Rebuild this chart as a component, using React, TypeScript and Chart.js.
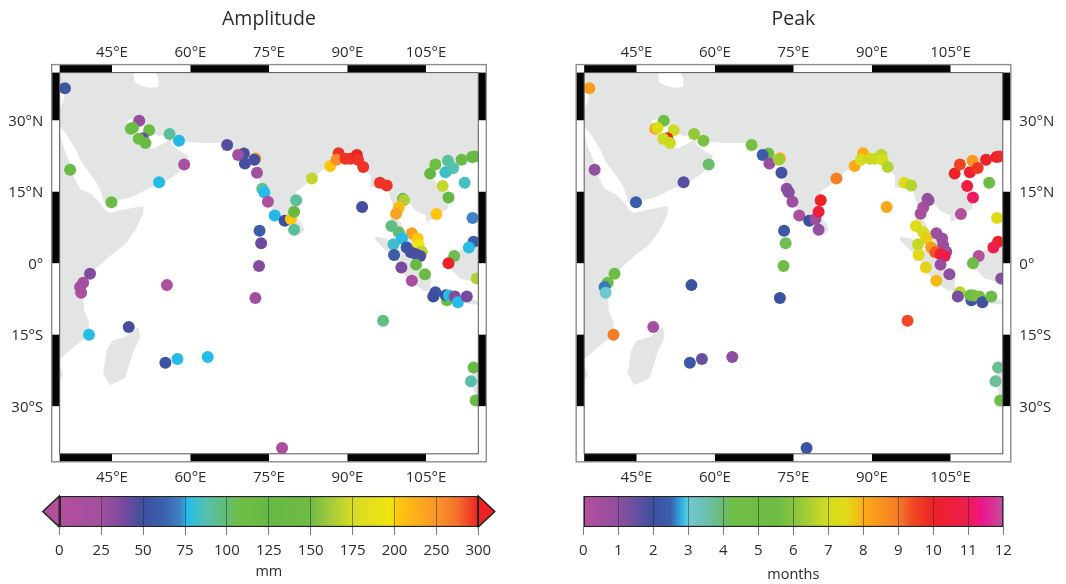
import React, { useEffect, useRef } from "react";
import { Chart, registerables } from "chart.js";

Chart.register(...registerables);

const FONT = '"Open Sans", sans-serif';
const TEXT = "#2b2b2b";
const LAND = "#e3e5e5";

const lonTicks = [45, 60, 75, 90, 105];
const latTicks = [-30, -15, 0, 15, 30];
const lonBands = [35, 45, 60, 75, 90, 105, 115];
const latBands = [40, 30, 15, 0, -15, -30, -40];

const amplitudeTicks = [0, 25, 50, 75, 100, 125, 150, 175, 200, 250, 300];
const peakTicks = [0, 1, 2, 3, 4, 5, 6, 7, 8, 9, 10, 11, 12];

const amplitudeRamp: [number, string][] = [
  [0, "#b44f9d"], [1, "#a04f9f"], [1.5, "#7c4a9e"], [2, "#3c4f9f"], [2.5, "#3b60ab"], [2.9, "#4084c4"],
  [3.05, "#22bcec"], [3.5, "#55c0b0"], [4, "#62bd72"], [4.3, "#70bf44"], [5, "#66b845"], [6, "#6fbc44"],
  [6.5, "#a8cc3a"], [7, "#d6dc26"], [7.9, "#f2e40e"], [8.1, "#ffc50e"], [9, "#f9962a"], [9.5, "#f3702c"], [10, "#ee2224"],
];
const peakRamp: [number, string][] = [
  [0, "#b84f9d"], [1, "#8f4fa0"], [2, "#3c50a0"], [2.5, "#3a5fac"], [2.85, "#2ebcec"], [3, "#6ec8d0"],
  [3.5, "#6cc0b0"], [4, "#6abd6f"], [4.3, "#70bf44"], [5.5, "#6cbc45"], [6, "#85c43f"], [7, "#d4dd1f"],
  [7.5, "#e0dc18"], [7.9, "#f5b915"], [8, "#fcaa17"], [9, "#f47c26"], [9.4, "#f04a25"], [10, "#ee2126"],
  [11, "#ee1c50"], [11.4, "#ec168e"], [12, "#c44f9c"],
];

const stationLon = [
  36.0, 50.2, 48.6, 49.0, 52.1, 50.9, 50.1, 51.4, 56.0, 57.8, 67.0, 70.2, 69.1, 70.4, 72.4, 72.2, 72.7, 73.7, 74.1, 74.8,
  76.1, 73.2, 73.5, 73.1, 72.4, 78.0, 79.2, 79.8, 80.2, 79.8, 83.2, 86.7, 88.3, 87.9, 89.6, 90.5, 91.8, 92.0, 93.0, 92.8,
  96.2, 97.5, 100.6, 100.8, 99.8, 99.3, 107.0, 109.3, 108.2, 105.8, 106.8, 108.7, 109.2, 110.2, 111.8, 113.8, 114.3, 112.4, 113.9, 114.1,
  113.2, 110.4, 109.3, 114.7, 98.4, 99.8, 102.3, 100.4, 98.8, 103.4, 103.6, 104.2, 101.3, 102.1, 103.1, 103.9, 98.9, 100.3, 103.1, 104.8,
  102.3, 106.8, 106.4, 109.0, 108.8, 109.4, 110.5, 111.1, 112.8, 96.8, 114.1, 113.6, 114.5, 77.5, 37.0, 44.9, 58.8, 54.0, 40.8, 39.5,
  38.9, 39.1, 40.6, 48.2, 55.5, 55.2, 57.5, 63.3,
];
const stationLat = [
  36.7, 29.9, 28.2, 28.4, 27.9, 26.2, 26.1, 25.2, 27.1, 25.7, 24.8, 23.0, 22.7, 20.9, 22.0, 21.7, 19.0, 15.6, 14.9, 12.9,
  10.0, 6.8, 4.2, -0.6, -7.3, 8.9, 9.3, 10.8, 13.2, 7.0, 17.8, 20.4, 23.1, 21.7, 21.9, 21.9, 22.7, 21.7, 20.2, 11.8,
  16.9, 16.3, 13.5, 13.2, 11.7, 10.4, 10.3, 13.8, 16.2, 18.8, 20.7, 19.1, 21.5, 20.0, 21.7, 22.3, 22.4, 16.9, 9.5, 4.5,
  3.3, 1.5, 0.0, -3.2, 7.8, 6.5, 6.3, 5.2, 4.0, 5.2, 3.8, 2.4, 3.3, 2.3, 1.9, 1.5, 1.7, -0.9, -0.3, -2.3,
  -3.7, -6.1, -7.0, -7.8, -6.7, -6.8, -7.0, -8.2, -7.0, -12.1, -21.9, -24.8, -28.8, -38.8, 19.6, 12.8, 20.7, 17.0, -2.2, -4.1,
  -5.0, -6.2, -15.0, -13.4, -4.6, -20.9, -20.1, -19.7,
];
const amplitudeMm = [
  55, 30, 110, 118, 115, 40, 115, 118, 92, 76, 45, 48, 22, 48, 240, 48, 22, 93, 77, 10,
  76, 60, 40, 35, 25, 50, 205, 120, 92, 92, 170, 205, 295, 255, 295, 295, 300, 295, 295, 48,
  295, 295, 125, 165, 215, 240, 205, 125, 170, 125, 110, 82, 92, 88, 118, 120, 122, 84, 72, 62,
  78, 105, 300, 165, 97, 100, 240, 77, 82, 205, 195, 168, 55, 47, 47, 47, 58, 38, 122, 118,
  12, 55, 50, 115, 50, 78, 35, 77, 38, 97, 120, 88, 118, 12, 118, 118, 15, 77, 35, 18,
  22, 12, 77, 48, 10, 54, 77, 77,
];
const peakMonth = [
  8.3, 5, 8.2, 7.4, 6.9, 10, 6.9, 6.9, 6.2, 5.8, 5.7, 5.2, 2.4, 0.8, 8, 6.3, 1.9, 0.9, 1.1, 0.6,
  0.4, 2.3, 4.2, 5, 2, 2, 0.7, 10.5, 10, 0.9, 8.9, 8, 8, 7.1, 6.9, 6.9, 6.7, 7, 6.6, 8.1,
  7.4, 6.6, 0.9, 0.9, 0.5, 0.4, 0.1, 11.1, 10.6, 10, 9.5, 10.2, 8.4, 9.7, 10.1, 10.1, 9.9, 5.5, 7.4, 10,
  10.9, 0.1, 5.4, 1.1, 7.4, 7, 0.6, 7.7, 6.8, 0.7, 0.7, 0.7, 8.3, 9.3, 10.5, 10.8, 7.5, 7.6, 0.8, 1,
  7.9, 6.6, 1.3, 1.9, 5.5, 5.6, 5.8, 1.9, 5.5, 9.4, 3.7, 3.7, 5, 2.1, 0.9, 2.4, 4, 1.7, 5.1, 5,
  2.6, 3, 9, 0.5, 2.1, 2.2, 1.5, 1,
];

const eurasia = [
  [34, 41], [116, 41], [116, 22.7], [114, 22.3], [111, 21.4], [110.3, 20.3], [109.7, 21.5], [108, 21.6], [106.7, 20.5], [105.8, 19],
  [106.5, 17.5], [108, 16], [109.2, 13.5], [109.2, 11.5], [107.5, 10.4], [106.7, 9.5], [105, 8.6], [105, 10], [103, 11], [102, 12.5],
  [100.9, 13.4], [100, 13.3], [99.9, 11.5], [99.2, 9.5], [100.3, 8.3], [100.5, 7], [101.8, 6.6], [103.3, 5], [103.5, 2.8], [104.2, 1.4],
  [103.3, 1.4], [101.3, 2.9], [100.5, 5], [100.2, 6.5], [98.5, 8], [98.3, 10], [98.7, 12], [97.7, 15.5], [97.2, 16.8], [95.5, 15.8],
  [94.3, 16], [94.5, 18], [93.5, 19.8], [92.3, 20.8], [91.5, 22.4], [90.5, 22.5], [88.8, 21.7], [87, 21.3], [86.5, 20], [85, 19.4],
  [83, 17.3], [81.5, 16], [80.2, 15], [80.3, 13], [79.8, 11], [79, 9.5], [78, 8.7], [77.5, 8], [76.5, 9], [75.5, 11.5],
  [74.7, 13], [73.5, 16], [72.8, 19], [72.7, 21], [72, 21], [71, 20.8], [69, 22.2], [70, 22.8], [68.5, 23.3], [67.3, 24.5],
  [66.5, 25.3], [62, 25.2], [57.5, 25.6], [56.8, 27], [54, 26.7], [51.5, 27.8], [50.5, 29.5], [49, 30.3], [48, 30], [48, 29],
  [48.8, 27.7], [50, 26.5], [50.2, 25.6], [50.8, 24.8], [51.3, 26], [51.6, 25], [51.5, 24.2], [53, 24.1], [55, 25.2], [56.3, 26.2],
  [56.5, 24.8], [58, 23.6], [59.7, 22.5], [58.7, 20.5], [57.7, 19], [55, 17], [52, 15.7], [49, 14], [45, 12.8], [43.5, 12.7],
  [42.7, 15.5], [42, 17], [40, 20], [39, 21.5], [38, 24], [36, 27.5], [35, 28.5], [34, 29],
];
const africa = [
  [34, 28], [35, 28], [35.5, 25], [37, 21], [37.5, 18.5], [39, 15.5], [41, 14.5], [43, 12.3], [43.3, 11.5], [44.5, 10.5],
  [47, 11.2], [51, 12], [51, 10.5], [49.5, 7], [47.5, 4], [45, 1.8], [42, -1], [40.5, -2.5], [39.3, -5], [39.5, -7],
  [39.7, -10], [40.5, -12], [40.7, -15], [38, -17.3], [35.5, -19.7], [34, -21],
];
const mozambique = [[34, -21.5], [35, -21.5], [35.6, -23], [35.5, -24], [34.8, -25], [34, -25]];
const madagascar = [
  [50, -13.4], [50.4, -15.5], [49, -18.8], [47.5, -24.1], [44.6, -25.6], [43.3, -23.1], [44, -18.2], [45, -16.3], [47.5, -15.5], [49, -14.4],
];
const sriLanka = [[80, 9.7], [81.2, 8.5], [81.8, 7], [81, 6.1], [80.1, 6], [79.8, 7.5]];
const sumatra = [
  [95.3, 5.6], [97.5, 5.2], [100, 2.8], [103.5, 0], [104, -1.5], [106, -3], [105.8, -5.8], [104.5, -5.8], [102.3, -4], [100.5, -2],
  [98.7, 1.5], [97, 3], [95.3, 5],
];
const borneo = [[109, 1.5], [111.3, 2.5], [113.5, 4], [116, 6.5], [116, -4], [114.5, -4], [111.5, -3.2], [110, -1.5], [109, 0.5]];
const java = [[105.3, -6.5], [108.5, -6.6], [110.8, -6.5], [114.5, -7.7], [116, -8.3], [114.5, -8.7], [110, -8], [106.5, -7.5]];
const hainan = [[108.8, 19.2], [110.3, 20], [111, 19.5], [109.8, 18.3], [108.7, 18.6]];
const australia = [[114, -22], [116, -20.9], [116, -32], [115, -30], [114.2, -27], [113.5, -25], [113.8, -22.5]];
const caspian = [[49, 41], [49.3, 38], [50.5, 37.3], [52, 36.8], [53.8, 37], [54, 38.5], [53, 41]];
const levant = [[34, 37.5], [36, 36.8], [36, 35.5], [35.5, 33.5], [34.8, 32], [34, 32]];

const landShapes = [eurasia, africa, mozambique, madagascar, sriLanka, sumatra, borneo, java, hainan, australia];
const waterShapes = [caspian, levant];

const rgb = (h: string) => [1, 3, 5].map((i) => parseInt(h.slice(i, i + 2), 16));

function rampColor(ramp: [number, string][], p: number) {
  for (let i = 1; i < ramp.length; i++) {
    if (p <= ramp[i][0]) {
      const [a, ca] = ramp[i - 1];
      const [b, cb] = ramp[i];
      const t = Math.max(0, (p - a) / (b - a));
      const A = rgb(ca);
      const B = rgb(cb);
      return `rgb(${A.map((v, k) => Math.round(v + (B[k] - v) * t)).join(",")})`;
    }
  }
  return ramp[ramp.length - 1][1];
}

function tickPosition(ticks: number[], v: number) {
  for (let i = 1; i < ticks.length; i++) {
    if (v <= ticks[i]) return i - 1 + (v - ticks[i - 1]) / (ticks[i] - ticks[i - 1]);
  }
  return ticks.length - 1;
}

const frame = {
  id: "frame",
  afterDatasetsDraw(chart: any) {
    const { ctx, chartArea: a, scales } = chart;
    const B = 8;
    ctx.save();
    ctx.fillStyle = "#fff";
    ctx.fillRect(a.left - B, a.top - B, a.right - a.left + 2 * B, B);
    ctx.fillRect(a.left - B, a.bottom, a.right - a.left + 2 * B, B);
    ctx.fillRect(a.left - B, a.top, B, a.bottom - a.top);
    ctx.fillRect(a.right, a.top, B, a.bottom - a.top);
    ctx.fillStyle = "#050505";
    for (let i = 0; i < lonBands.length - 1; i += 2) {
      const x0 = scales.x.getPixelForValue(lonBands[i]);
      const x1 = scales.x.getPixelForValue(lonBands[i + 1]);
      ctx.fillRect(x0, a.top - B, x1 - x0, B);
      ctx.fillRect(x0, a.bottom, x1 - x0, B);
    }
    for (let i = 0; i < latBands.length - 1; i += 2) {
      const y0 = scales.y.getPixelForValue(latBands[i]);
      const y1 = scales.y.getPixelForValue(latBands[i + 1]);
      ctx.fillRect(a.left - B, y0, B, y1 - y0);
      ctx.fillRect(a.right, y0, B, y1 - y0);
    }
    ctx.strokeStyle = "#8c8c8c";
    ctx.lineWidth = 1.4;
    ctx.strokeRect(a.left - B, a.top - B, a.right - a.left + 2 * B, a.bottom - a.top + 2 * B);
    ctx.strokeStyle = "#555";
    ctx.lineWidth = 1;
    ctx.strokeRect(a.left, a.top, a.right - a.left, a.bottom - a.top);
    ctx.restore();
  },
};

function shapeDataset(shape: number[][], color: string, order: number) {
  return {
    type: "scatter",
    data: [...shape, shape[0]].map(([x, y]) => ({ x, y })),
    showLine: true,
    fill: "shape",
    backgroundColor: color,
    borderWidth: 0,
    pointRadius: 0,
    order,
  };
}

function makeMap(canvas: HTMLCanvasElement, title: string, colors: string[], side: "left" | "right", leftPad: number, rightPad: number, yWidth: number) {
  const tick = { color: TEXT, font: { family: FONT, size: 15 } };
  const lonAxis = (position: string, padding: number, height: number) => ({
    type: "linear",
    position,
    min: lonBands[0],
    max: lonBands[lonBands.length - 1],
    grid: { display: false, drawTicks: false },
    border: { display: false },
    ticks: { ...tick, padding, maxRotation: 0, autoSkip: false, callback: (v: number) => `${v}°E` },
    afterBuildTicks: (s: any) => { s.ticks = lonTicks.map((value) => ({ value })); },
    afterFit: (s: any) => { s.height = height; },
  });
  return new Chart(canvas, {
    type: "scatter",
    data: {
      datasets: [
        {
          data: stationLon.map((x, i) => ({ x, y: stationLat[i] })),
          backgroundColor: colors,
          pointRadius: 6,
          pointHoverRadius: 6,
          borderWidth: 0,
          order: 1,
        },
        ...waterShapes.map((s) => shapeDataset(s, "#ffffff", 2)),
        ...landShapes.map((s) => shapeDataset(s, LAND, 3)),
      ],
    } as any,
    options: {
      animation: false,
      responsive: false,
      maintainAspectRatio: false,
      layout: { padding: { left: leftPad, right: rightPad, top: 0, bottom: 0 } },
      plugins: {
        legend: { display: false },
        tooltip: { enabled: false },
        title: {
          display: true,
          text: title,
          fullSize: false,
          color: TEXT,
          font: { family: FONT, size: 19.5, weight: "normal" },
          padding: { top: 8, bottom: 5 },
        },
      },
      scales: {
        x: lonAxis("bottom", 15, 36.2),
        xTop: lonAxis("top", 11, 36.2),
        y: {
          type: "linear",
          position: side,
          min: latBands[latBands.length - 1],
          max: latBands[0],
          grid: { display: false, drawTicks: false },
          border: { display: false },
          ticks: {
            ...tick,
            padding: 16.5,
            labelOffset: 1.5,
            autoSkip: false,
            callback: (v: number) => (v === 0 ? "0°" : `${Math.abs(v)}°${v > 0 ? "N" : "S"}`),
          },
          afterBuildTicks: (s: any) => { s.ticks = latTicks.map((value) => ({ value })); },
          afterFit: (s: any) => { s.width = yWidth; },
        },
      },
    } as any,
    plugins: [frame],
  });
}

function makeBar(canvas: HTMLCanvasElement, ticks: number[], ramp: [number, string][], unit: string, unitPad: number, leftPad: number, rightPad: number, arrows: boolean) {
  const last = ticks.length - 1;
  const arrowPlugin = {
    id: "arrows",
    afterDatasetsDraw(chart: any) {
      if (!arrows) return;
      const { ctx, chartArea: a } = chart;
      const mid = (a.top + a.bottom) / 2;
      const tri = (x: number, tip: number, color: string) => {
        ctx.beginPath();
        ctx.moveTo(x, a.top);
        ctx.lineTo(tip, mid);
        ctx.lineTo(x, a.bottom);
        ctx.closePath();
        ctx.fillStyle = color;
        ctx.fill();
        ctx.strokeStyle = "#222";
        ctx.lineWidth = 1.5;
        ctx.stroke();
      };
      tri(a.left, a.left - 16.5, ramp[0][1]);
      tri(a.right, a.right + 16.5, ramp[ramp.length - 1][1]);
    },
  };
  return new Chart(canvas, {
    type: "bar",
    data: {
      labels: [unit],
      datasets: [
        {
          data: [[0, last]],
          barPercentage: 1,
          categoryPercentage: 1,
          borderColor: "#222",
          borderWidth: 1.5,
          borderSkipped: false,
          backgroundColor: (c: any) => {
            const a = c.chart.chartArea;
            if (!a) return ramp[0][1];
            const g = c.chart.ctx.createLinearGradient(a.left, 0, a.right, 0);
            ramp.forEach(([p, col]) => g.addColorStop(p / last, col));
            return g;
          },
        },
      ],
    } as any,
    options: {
      animation: false,
      responsive: false,
      maintainAspectRatio: false,
      indexAxis: "y",
      layout: { padding: { left: leftPad, right: rightPad, top: 11, bottom: 0 } },
      plugins: { legend: { display: false }, tooltip: { enabled: false } },
      scales: {
        y: { display: false },
        x: {
          type: "linear",
          min: 0,
          max: last,
          grid: { z: 1, color: "rgba(40,40,40,0.5)", tickColor: "#777", tickLength: 8, lineWidth: 1 },
          border: { display: false },
          ticks: {
            stepSize: 1,
            padding: 7,
            color: TEXT,
            font: { family: FONT, size: 15 },
            maxRotation: 0,
            autoSkip: false,
            callback: (v: number) => ticks[v],
          },
          title: {
            display: true,
            text: unit,
            color: TEXT,
            font: { family: FONT, size: 14.5 },
            padding: { top: 0, bottom: unitPad },
          },
          afterFit: (s: any) => { s.height = 57; },
        },
      },
    } as any,
    plugins: [arrowPlugin],
  });
}

const abs = (left: number, top: number): React.CSSProperties => ({ position: "absolute", left, top, display: "block", filter: "blur(0.35px)" });

export default function App() {
  const m1 = useRef<HTMLCanvasElement>(null);
  const m2 = useRef<HTMLCanvasElement>(null);
  const b1 = useRef<HTMLCanvasElement>(null);
  const b2 = useRef<HTMLCanvasElement>(null);
  useEffect(() => {
    const ampColors = amplitudeMm.map((v) => rampColor(amplitudeRamp, tickPosition(amplitudeTicks, v)));
    const peakColors = peakMonth.map((v) => rampColor(peakRamp, v));
    const charts = [
      makeMap(m1.current!, "Amplitude", ampColors, "left", 0, 59.7, 59.67),
      makeMap(m2.current!, "Peak", peakColors, "right", 60.17, 0, 63.2),
      makeBar(b1.current!, amplitudeTicks, amplitudeRamp, "mm", 3, 59.3, 59.7, true),
      makeBar(b2.current!, peakTicks, peakRamp, "months", 0, 59.3, 62.7, false),
    ];
    return () => charts.forEach((c) => c.destroy());
  }, []);
  return (
    <div>
      <canvas ref={m1} width={538} height={490} style={abs(0, 0)} />
      <canvas ref={m2} width={542} height={490} style={abs(524, 0)} />
      <canvas ref={b1} width={538} height={99} style={abs(0, 485)} />
      <canvas ref={b2} width={542} height={99} style={abs(524, 485)} />
    </div>
  );
}
